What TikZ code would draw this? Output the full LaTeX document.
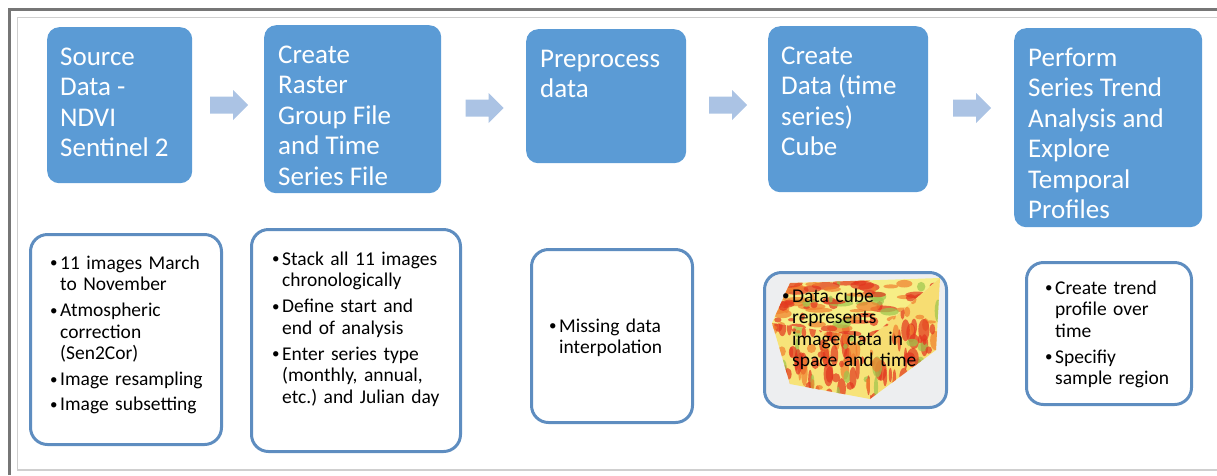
\documentclass[tikz,border=0pt]{standalone}
\usepackage{fontspec}
\setmainfont{Carlito}
\usetikzlibrary{calc}

\definecolor{stepblue}{HTML}{5B9BD5}
\definecolor{arrowblue}{HTML}{ABC3E4}
\definecolor{noteline}{HTML}{5E8DC0}
\definecolor{cubegray}{HTML}{EDEEF0}
\definecolor{framedark}{HTML}{767676}
\definecolor{framelight}{HTML}{CFCFCF}
\definecolor{cubered}{HTML}{E2361F}
\definecolor{cubeorange}{HTML}{F07E2E}
\definecolor{cubeyellow}{HTML}{F6EE86}
\definecolor{cubegreen}{HTML}{9CC54C}

%% one bullet of a note list, lines split with \\
\newcommand\itm[1]{\par\noindent\makebox[10pt][l]{\raisebox{1.5pt}{\fontsize{15}{15}\selectfont\textbullet}}%
  \begin{tabular}[t]{@{}l@{}}#1\end{tabular}}

%% streaks of colour on one face of the cube
\newcommand\streaks[7]{% x0, y0, dx, dy, max rx, max ry, count
  \foreach \i in {1,...,#7}{
    \pgfmathsetmacro\bx{#1+#3*rnd}
    \pgfmathsetmacro\by{#2+#4*rnd}
    \pgfmathsetmacro\bw{1.5+#5*rnd}
    \pgfmathsetmacro\bh{1.5+#6*rnd}
    \pgfmathtruncatemacro\k{mod(\i,6)}
    \ifcase\k\def\blob{cubered}\or\def\blob{cubeorange}\or\def\blob{cubered}\or
      \def\blob{cubegreen}\or\def\blob{cubered}\or\def\blob{cubeorange}\fi
    \fill[\blob, opacity=.7] (\bx,\by) ellipse[x radius=\bw pt, y radius=\bh pt];
  }}

\tikzset{
  stepbox/.style={fill=stepblue, rounded corners=12pt, anchor=north west, inner sep=0pt},
  steptext/.style={text=white, anchor=north west, inner sep=0pt, align=left,
    font=\fontsize{27}{30.5}\selectfont},
  notebox/.style={draw=noteline, line width=3pt, fill=white, rounded corners=17pt,
    anchor=north west, inner sep=0pt},
  notetext/.style={anchor=north west, inner sep=0pt, text width=#1,
    font=\fontsize{19.5}{21.5}\selectfont\frenchspacing,
    execute at begin node=\setlength{\parskip}{3.5pt}},
}

\begin{document}
\begin{tikzpicture}[x=1pt, y=-1pt]
\useasboundingbox (0,0) rectangle (1217,475);
%% Frame
\draw[framedark, line width=3pt] (9,475) -- (9,9.5) -- (1217,9.5);
\draw[framelight, line width=1pt] (17,470) -- (17,17) -- (1217,17);
\draw[framelight, line width=2pt] (17,470) -- (1217,470);

%% Steps %%%%%%%%%%%%%%%%%%%%%%%%%%%%%%%%%%%%%%%%%%%%%%%%%%%%
\node[stepbox, minimum width=145pt, minimum height=156pt] (src) at (47,27) {};
\node[stepbox, minimum width=177pt, minimum height=168pt] (raster) at (264,25) {};
\node[stepbox, minimum width=160pt, minimum height=134pt] (prep) at (526,29) {};
\node[stepbox, minimum width=160pt, minimum height=166pt] (cubestep) at (768,26) {};
\node[stepbox, minimum width=188pt, minimum height=199pt] (trend) at (1014,28) {};

\node[steptext] (srctext) at ([xshift=13pt,yshift=-16.5pt]src.north west)
  {\strut Source\\Data -\\NDVI\\Sentinel 2};
\node[steptext] (rastertext) at ([xshift=14pt,yshift=-16.5pt]raster.north west)
  {\strut Create\\Raster\\Group File\\and Time\\Series File};
\node[steptext] (preptext) at ([xshift=14pt,yshift=-16.5pt]prep.north west)
  {\strut Preprocess\\data};
\node[steptext] (cubesteptext) at ([xshift=13pt,yshift=-16.5pt]cubestep.north west)
  {\strut Create\\Data (time\\series)\\Cube};
\node[steptext] (trendtext) at ([xshift=14pt,yshift=-16.5pt]trend.north west)
  {\strut Perform\\Series Trend\\Analysis and\\Explore\\Temporal\\Profiles};

%% block arrows between the steps
\foreach \a/\b/\h in {src/raster/105, raster/prep/108, prep/cubestep/105, cubestep/trend/108}{
  \coordinate (mid) at ($(\a.east)!.5!(\b.west)$);
  \fill[arrowblue] (mid |- 0,\h) ++(-18,-8.5) -- ++(23,0) -- ++(0,-6.5) -- ++(15,15)
    -- ++(-15,15) -- ++(0,-6.5) -- ++(-23,0) -- cycle;
}

%% Notes %%%%%%%%%%%%%%%%%%%%%%%%%%%%%%%%%%%%%%%%%%%%%%%%%%%%
\node[notebox, minimum width=191pt, minimum height=210pt] (srcnote) at (29,233) {};
\node[notebox, minimum width=209pt, minimum height=222pt] (rasternote) at (250,228) {};
\node[notebox, minimum width=161pt, minimum height=173pt] (prepnote) at (530,248) {};
\node[notebox, fill=cubegray, minimum width=182pt, minimum height=135pt] (cubenote) at (763,271) {};
\node[notebox, minimum width=165pt, minimum height=142pt] (trendnote) at (1025,261) {};

%% the data cube picture: top, front and right face
\pgfmathsetseed{42}
\begin{scope}
  \clip (790,283) -- (940,278) -- (870,338) -- (772,323) -- cycle;
  \fill[cubeyellow] (770,275) rectangle (945,340);
  \streaks{772}{278}{168}{60}{13}{3.5}{110}
\end{scope}
\begin{scope}
  \clip (772,323) -- (870,338) -- (870,399) -- (790,384) -- cycle;
  \fill[cubeyellow!90!orange] (770,320) rectangle (872,400);
  \streaks{772}{323}{98}{76}{3.5}{12}{90}
\end{scope}
\begin{scope}
  \clip (870,338) -- (940,278) -- (936,350) -- (870,399) -- cycle;
  \fill[cubeyellow!85!orange] (868,276) rectangle (942,400);
  \streaks{870}{280}{70}{118}{4.5}{10}{65}
\end{scope}

\node[notetext=165pt] (srcnotetext) at ([xshift=21pt,yshift=-11pt]srcnote.north west)
  {\itm{11 images March\\to November}\itm{Atmospheric\\correction\\(Sen2Cor)}%
   \itm{Image resampling}\itm{Image subsetting}};
\node[notetext=185pt] (rasternotetext) at ([xshift=22pt,yshift=-12pt]rasternote.north west)
  {\itm{Stack all 11 images\\chronologically}\itm{Define start and\\end of analysis}%
   \itm{Enter series type\\(monthly, annual,\\etc.) and Julian day}};
\node[notetext=140pt] (prepnotetext) at ([xshift=19pt,yshift=-59pt]prepnote.north west)
  {\itm{Missing data\\interpolation}};
\node[notetext=160pt] (cubenotetext) at ([xshift=19pt,yshift=-6pt]cubenote.north west)
  {\itm{Data cube\\represents\\image data in\\space and time}};
\node[notetext=140pt] (trendnotetext) at ([xshift=20pt,yshift=-8pt]trendnote.north west)
  {\itm{Create trend\\profile over\\time}\itm{Specifiy\\sample region}};
\end{tikzpicture}
\end{document}
